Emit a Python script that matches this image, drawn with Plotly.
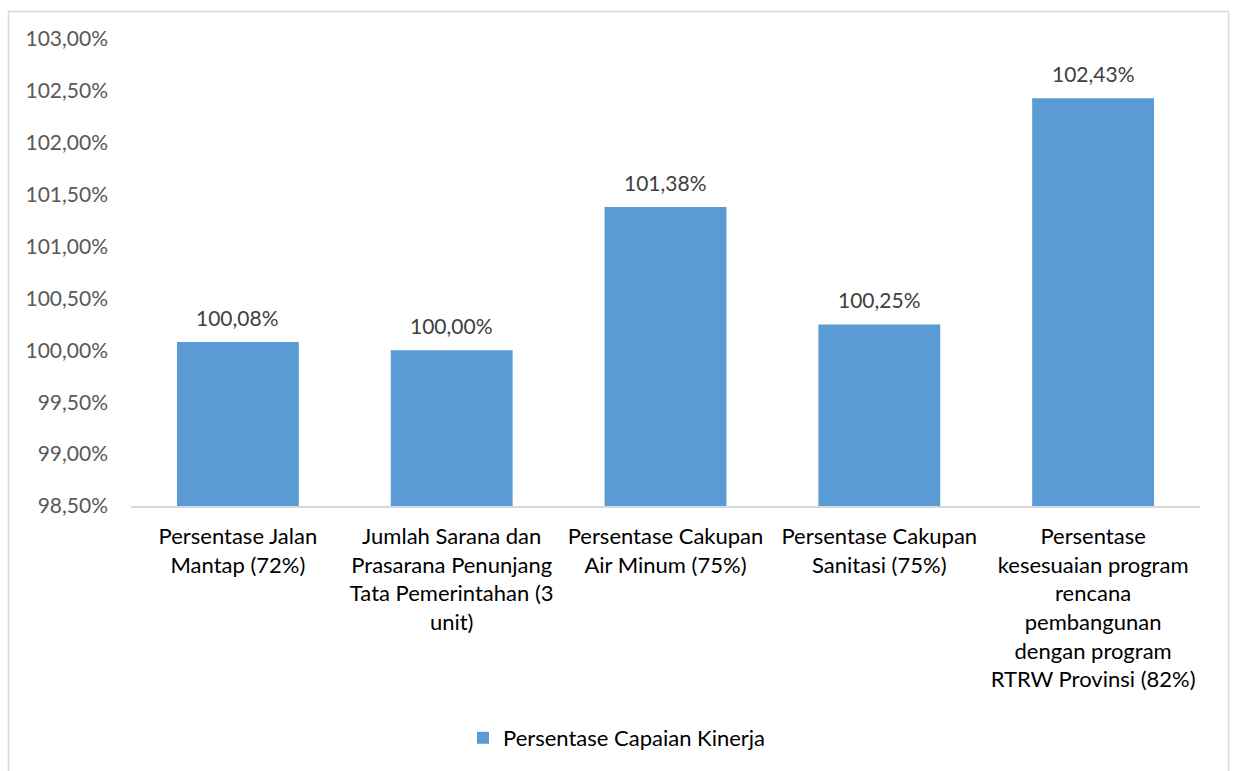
import plotly.graph_objects as go

categories = [
    "Persentase Jalan<br>Mantap (72%)",
    "Jumlah Sarana dan<br>Prasarana Penunjang<br>Tata Pemerintahan (3<br>unit)",
    "Persentase Cakupan<br>Air Minum (75%)",
    "Persentase Cakupan<br>Sanitasi (75%)",
    "Persentase<br>kesesuaian program<br>rencana<br>pembangunan<br>dengan program<br>RTRW Provinsi (82%)",
]
values = [1.0008, 1.0000, 1.0138, 1.0025, 1.0243]
series_name = "Persentase Capaian Kinerja"
y_range = [0.985, 1.03]

W, H = 1234, 771
ML, MT = 131, 39
MR = W - 1200
MB = H - 506
pw, ph = W - ML - MR, H - MT - MB

FONT = "Lato"

fig = go.Figure()
fig.add_trace(go.Bar(
    x=categories, y=values, name=series_name,
    marker=dict(color="#5B9BD5", line=dict(width=0)),
    showlegend=True,
))

for c, v in zip(categories, values):
    fig.add_annotation(
        x=c, y=v, xref="x", yref="y",
        text=f"{v*100:.2f}%".replace(".", ","),
        showarrow=False, yanchor="bottom", yshift=10,
        font=dict(family=FONT, size=21, color="#404040"),
    )

def px_x(p):
    return (p - ML) / pw

def px_y(p):
    return (H - MB - p) / ph

fig.add_shape(
    type="rect", xref="paper", yref="paper",
    x0=px_x(8.5), x1=px_x(1228.5), y0=px_y(800), y1=px_y(11.5),
    line=dict(color="#D9D9D9", width=1.5), fillcolor="rgba(0,0,0,0)", layer="below",
)

fig.update_layout(
    width=W, height=H,
    margin=dict(l=ML, r=MR, t=MT, b=MB, autoexpand=False),
    paper_bgcolor="white", plot_bgcolor="white",
    separators=",.",
    bargap=0.43,
    font=dict(family=FONT, size=21, color="#595959"),
    xaxis=dict(
        showline=True, linecolor="#D9D9D9", linewidth=1.5,
        ticks="", showgrid=False, tickangle=0,
        tickfont=dict(family=FONT, size=22, color="#000000"),
        ticklabelstandoff=10,
    ),
    yaxis=dict(
        range=y_range, dtick=0.005, tick0=0.985, tickformat=".2%",
        showgrid=False, zeroline=False, showline=False, ticks="",
        tickfont=dict(family=FONT, size=21, color="#595959"),
        ticklabelstandoff=22,
    ),
    legend=dict(
        orientation="h", x=px_x(617), y=px_y(738), xanchor="center", yanchor="middle",
        font=dict(family=FONT, size=22, color="#000000"),
        itemwidth=30,
    ),
)

fig.write_html(
    "out.html",
    config={"displayModeBar": False},
    post_script="document.body.style.margin='0';document.body.style.overflow='hidden';",
)
